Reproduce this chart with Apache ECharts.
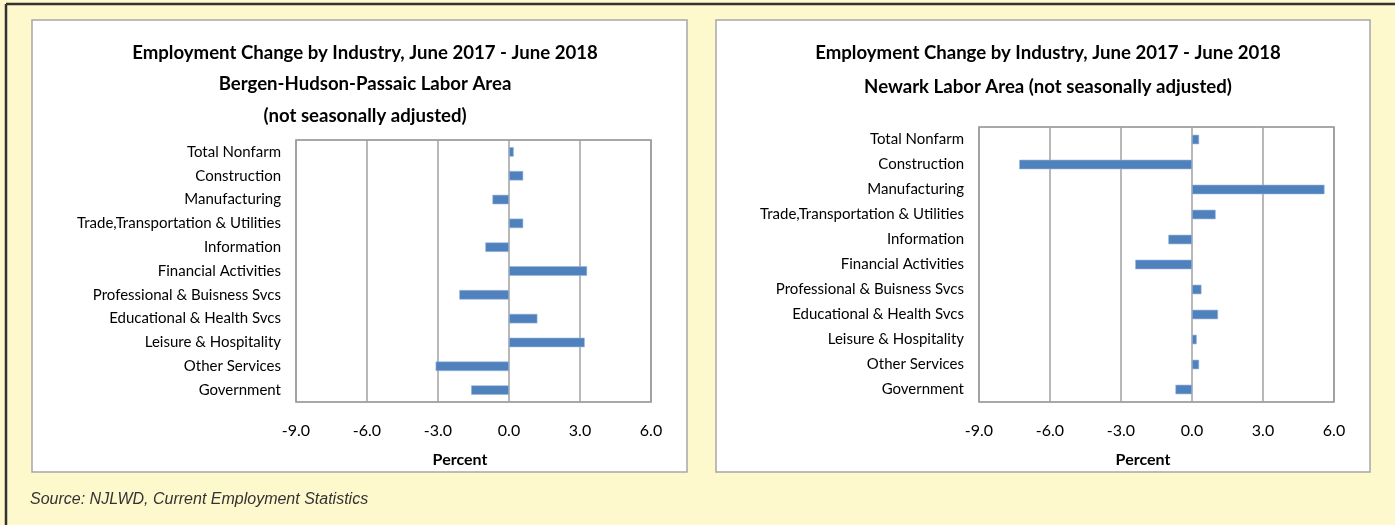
<!DOCTYPE html>
<html><head><meta charset="utf-8">
<script src="https://cdn.jsdelivr.net/npm/echarts@6/dist/echarts.min.js"></script>
<style>html,body{margin:0;padding:0;background:#FEF9CD;overflow:hidden;} #c{width:1395px;height:525px;}</style>
</head><body><div id="c"></div>
<script>
const categories = [
  'Total Nonfarm', 'Construction', 'Manufacturing', 'Trade,Transportation & Utilities',
  'Information', 'Financial Activities', 'Professional & Buisness Svcs',
  'Educational & Health Svcs', 'Leisure & Hospitality', 'Other Services', 'Government'
];
const bergenValues = [0.2, 0.6, -0.7, 0.6, -1.0, 3.3, -2.1, 1.2, 3.2, -3.1, -1.6];
const newarkValues = [0.3, -7.3, 5.6, 1.0, -1.0, -2.4, 0.4, 1.1, 0.2, 0.3, -0.7];
const axisMin = -9, axisMax = 6, axisStep = 3;
const titleBergen = 'Employment Change by Industry, June 2017 - June 2018\nBergen-Hudson-Passaic Labor Area\n(not seasonally adjusted)';
const titleNewark = 'Employment Change by Industry, June 2017 - June 2018\nNewark Labor Area (not seasonally adjusted)';
const axisTitle = 'Percent';
const sourceText = 'Source: NJLWD, Current Employment Statistics';

const FONT = "Lato, sans-serif";
const chart = echarts.init(document.getElementById('c'));

function xAx(gi) {
  return {
    gridIndex: gi, type: 'value', min: axisMin, max: axisMax, interval: axisStep,
    axisLine: {show: false}, axisTick: {show: false},
    axisLabel: {formatter: v => v.toFixed(1), color: '#000', fontSize: 16, fontFamily: FONT, margin: 21},
    splitLine: {show: true, lineStyle: {color: '#A0A0A0', width: 1.5}}
  };
}
function yAx(gi) {
  return {
    gridIndex: gi, type: 'category', data: categories, inverse: true,
    axisLine: {show: false}, axisTick: {show: false}, splitLine: {show: false},
    axisLabel: {color: '#000', fontSize: 15, fontFamily: FONT, margin: 15}
  };
}
const barStyle = {color: '#4F81BD', borderColor: '#9AB5DA', borderWidth: 0.6};

chart.setOption({
  animation: false,
  backgroundColor: '#FEF9CD',
  graphic: [
    {type: 'rect', shape: {x: 32, y: 20, width: 655, height: 452}, style: {fill: '#fff', stroke: '#A6A6A6', lineWidth: 1.5}, z: -10},
    {type: 'rect', shape: {x: 716, y: 20, width: 654, height: 452}, style: {fill: '#fff', stroke: '#A6A6A6', lineWidth: 1.5}, z: -10},
    {type: 'line', shape: {x1: 6, y1: 4, x2: 1395, y2: 4}, style: {stroke: '#333', lineWidth: 2.5}},
    {type: 'line', shape: {x1: 6, y1: 4, x2: 6, y2: 525}, style: {stroke: '#333', lineWidth: 2.5}}
  ],
  title: [
    {text: titleBergen, left: 360, top: 32, textAlign: 'center',
     textStyle: {fontFamily: FONT, fontWeight: 'bold', fontSize: 18.6, lineHeight: 31.5, color: '#000'}},
    {text: titleNewark, left: 1043, top: 31, textAlign: 'center',
     textStyle: {fontFamily: FONT, fontWeight: 'bold', fontSize: 18.6, lineHeight: 34, color: '#000'}},
    {text: axisTitle, left: 455, top: 447, textAlign: 'center',
     textStyle: {fontFamily: FONT, fontWeight: 'bold', fontSize: 16, color: '#000'}},
    {text: axisTitle, left: 1138, top: 447, textAlign: 'center',
     textStyle: {fontFamily: FONT, fontWeight: 'bold', fontSize: 16, color: '#000'}},
    {text: sourceText, left: 25, top: 487,
     textStyle: {fontFamily: "'Liberation Sans', Arial, sans-serif", fontStyle: 'italic', fontWeight: 'normal', fontSize: 16, color: '#333'}}
  ],
  grid: [
    {left: 296, top: 140, width: 355, height: 262, show: true, borderColor: '#8C8C8C', borderWidth: 1.5, backgroundColor: 'transparent'},
    {left: 979, top: 127, width: 355, height: 275, show: true, borderColor: '#8C8C8C', borderWidth: 1.5, backgroundColor: 'transparent'}
  ],
  xAxis: [xAx(0), xAx(1)],
  yAxis: [yAx(0), yAx(1)],
  series: [
    {type: 'bar', xAxisIndex: 0, yAxisIndex: 0, data: bergenValues, barWidth: 9.5, itemStyle: barStyle},
    {type: 'bar', xAxisIndex: 1, yAxisIndex: 1, data: newarkValues, barWidth: 9.5, itemStyle: barStyle}
  ]
});
</script></body></html>
